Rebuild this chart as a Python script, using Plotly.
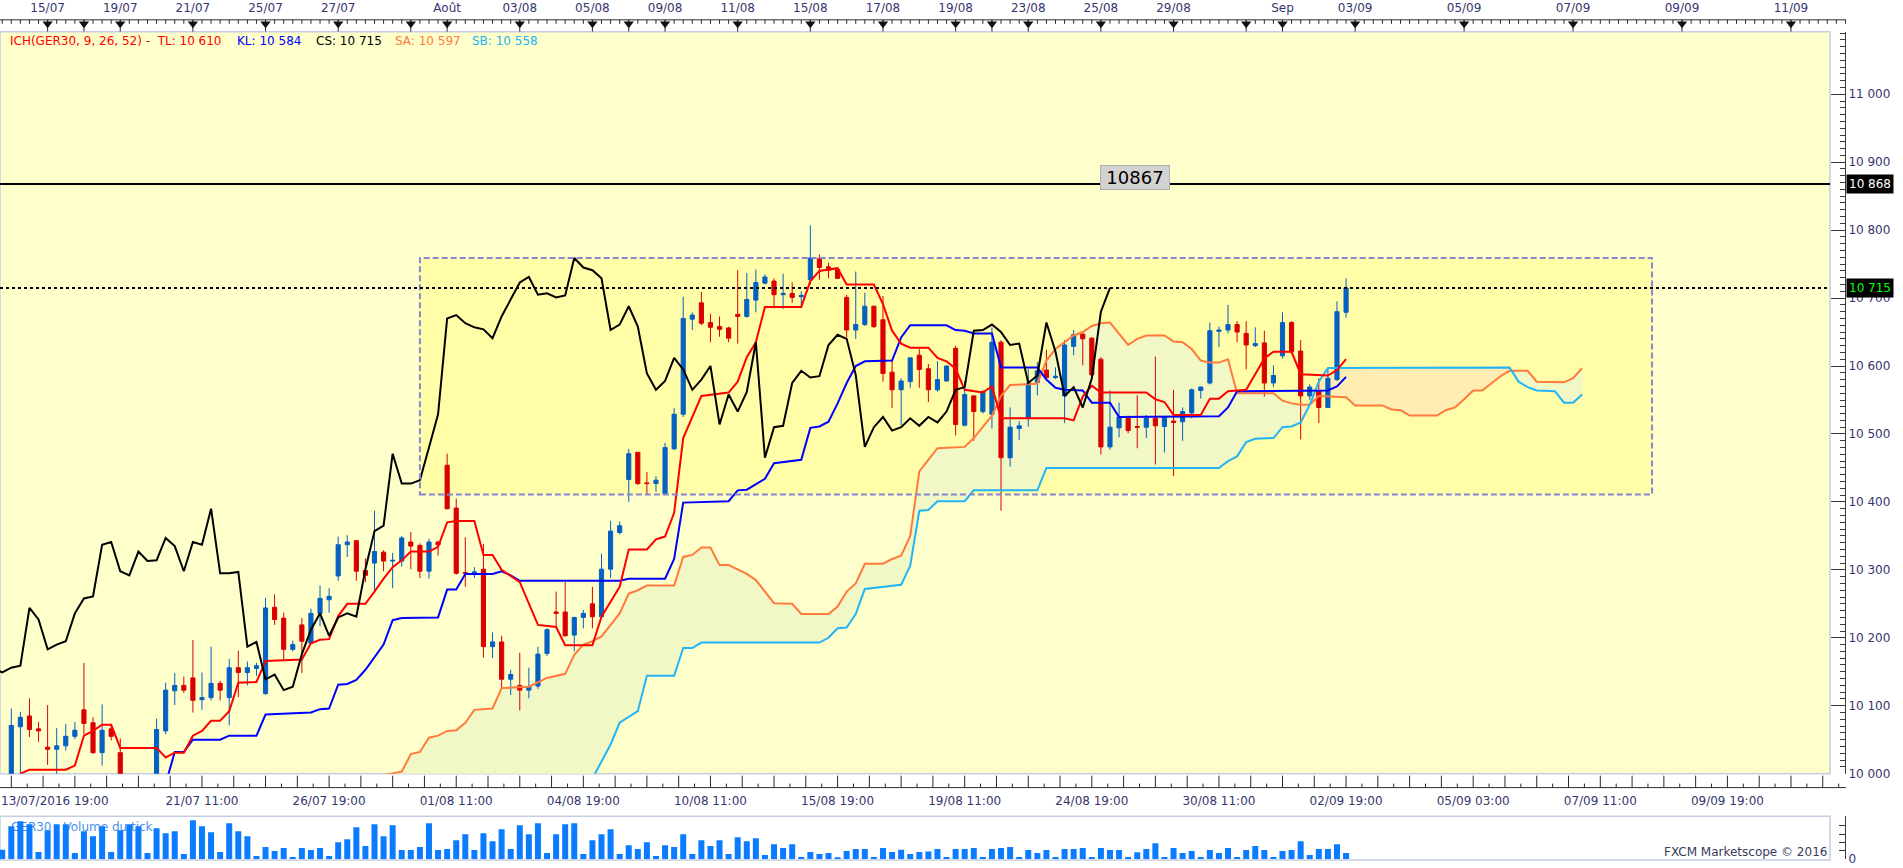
import plotly.graph_objects as go

# ---------------------------------------------------------------- geometry
W, H = 1903, 868
X0, DX = 11.3, 9.08          # px of bar 0 centre, px per bar
PLOT_R, PLOT_T, PLOT_B = 1830, 32, 780
VOL_T, VOL_B = 823, 866
AXIS_X = 1845
P0, PPX = 10000, 0.685       # price at plot bottom, px per point


def bx(px):
    return (px - X0) / DX


def fx(px):
    return px / W


def fy(py):
    return 1 - py / H


# ---------------------------------------------------------------- data (6h bars, GER30)
opens = [9970, 9985, 10069, 10085, 10066, 10039, 10036, 10041, 10055, 10094,
         10075, 10031, 10066, 10031, 9935, 9960, 9975, 9990, 10063, 10122,
         10130, 10141, 10109, 10112, 10133, 10112, 10156, 10149, 10155, 10118,
         10245, 10229, 10183, 10219, 10192, 10236, 10256, 10291, 10337, 10343,
         10299, 10310, 10326, 10313, 10313, 10341, 10336, 10298, 10341, 10454,
         10391, 10296, 10295, 10301, 10187, 10194, 10139, 10130, 10123, 10129,
         10177, 10238, 10238, 10204, 10230, 10250, 10231, 10301, 10355, 10433,
         10473, 10428, 10427, 10411, 10478, 10529, 10669, 10693, 10664, 10658,
         10656, 10676, 10673, 10697, 10722, 10725, 10705, 10707, 10702, 10727,
         10758, 10746, 10742, 10701, 10653, 10661, 10688, 10668, 10591, 10565,
         10577, 10616, 10596, 10565, 10578, 10626, 10513, 10556, 10533, 10529,
         10635, 10465, 10508, 10523, 10576, 10594, 10583, 10556, 10629, 10647,
         10641, 10610, 10481, 10509, 10523, 10511, 10510, 10523, 10511, 10519,
         10518, 10531, 10564, 10575, 10651, 10653, 10661, 10648, 10630, 10634,
         10575, 10615, 10664, 10622, 10556, 10564, 10539, 10580, 10679]
highs = [9995, 10096, 10091, 10111, 10076, 10101, 10067, 10073, 10076, 10163,
         10083, 10102, 10072, 10052, 9975, 9985, 9998, 10081, 10134, 10148,
         10143, 10197, 10149, 10187, 10137, 10169, 10181, 10165, 10163, 10259,
         10264, 10237, 10196, 10229, 10243, 10277, 10273, 10349, 10351, 10344,
         10317, 10387, 10329, 10325, 10350, 10356, 10339, 10346, 10342, 10471,
         10405, 10348, 10304, 10338, 10208, 10203, 10153, 10178, 10156, 10187,
         10214, 10268, 10282, 10231, 10241, 10275, 10324, 10372, 10371, 10478,
         10473, 10444, 10438, 10487, 10538, 10702, 10679, 10709, 10677, 10673,
         10658, 10741, 10737, 10742, 10735, 10729, 10736, 10723, 10710, 10807,
         10764, 10752, 10744, 10705, 10739, 10708, 10689, 10703, 10608, 10582,
         10612, 10625, 10603, 10607, 10601, 10630, 10578, 10557, 10565, 10657,
         10638, 10539, 10519, 10596, 10606, 10624, 10598, 10638, 10653, 10648,
         10642, 10613, 10564, 10546, 10527, 10557, 10528, 10614, 10525, 10565,
         10539, 10567, 10570, 10664, 10658, 10690, 10666, 10666, 10657, 10652,
         10601, 10679, 10666, 10638, 10573, 10582, 10596, 10695, 10729]
lows = [9955, 9970, 9995, 10054, 10047, 10013, 9998, 10034, 10051, 10058,
        10029, 10012, 10049, 9913, 9930, 9959, 9960, 9988, 10058, 10101,
        10119, 10090, 10094, 10108, 10108, 10071, 10113, 10130, 10144, 10116,
        10219, 10166, 10180, 10148, 10191, 10217, 10237, 10284, 10319, 10284,
        10282, 10268, 10298, 10273, 10305, 10301, 10288, 10287, 10321, 10389,
        10293, 10275, 10288, 10171, 10170, 10126, 10116, 10093, 10111, 10125,
        10173, 10216, 10202, 10180, 10214, 10214, 10229, 10288, 10352, 10400,
        10425, 10410, 10415, 10410, 10477, 10525, 10653, 10660, 10635, 10643,
        10635, 10633, 10671, 10679, 10720, 10685, 10684, 10693, 10690, 10720,
        10727, 10729, 10728, 10642, 10640, 10659, 10656, 10577, 10538, 10513,
        10568, 10568, 10547, 10562, 10577, 10498, 10511, 10490, 10530, 10508,
        10387, 10452, 10491, 10511, 10557, 10581, 10581, 10516, 10616, 10601,
        10585, 10470, 10477, 10495, 10501, 10479, 10494, 10455, 10473, 10438,
        10490, 10523, 10552, 10573, 10628, 10648, 10635, 10595, 10628, 10555,
        10569, 10611, 10620, 10492, 10550, 10516, 10538, 10578, 10671]
closes = [9985, 10071, 10083, 10065, 10063, 10036, 10041, 10055, 10064, 10074,
          10031, 10064, 10055, 9935, 9960, 9975, 9990, 10065, 10123, 10130,
          10123, 10108, 10112, 10133, 10123, 10156, 10149, 10156, 10159, 10244,
          10227, 10183, 10190, 10195, 10236, 10258, 10261, 10337, 10341, 10298,
          10292, 10327, 10313, 10314, 10347, 10335, 10298, 10341, 10337, 10390,
          10295, 10295, 10297, 10187, 10194, 10139, 10146, 10123, 10128, 10176,
          10212, 10236, 10203, 10230, 10236, 10231, 10301, 10357, 10365, 10471,
          10427, 10427, 10432, 10480, 10529, 10670, 10675, 10663, 10657, 10654,
          10641, 10673, 10698, 10723, 10731, 10705, 10707, 10701, 10704, 10759,
          10745, 10741, 10729, 10653, 10661, 10688, 10658, 10589, 10565, 10578,
          10612, 10595, 10565, 10580, 10600, 10514, 10558, 10533, 10562, 10635,
          10465, 10510, 10512, 10575, 10593, 10583, 10585, 10631, 10646, 10640,
          10587, 10481, 10510, 10525, 10505, 10510, 10523, 10512, 10525, 10517,
          10533, 10565, 10569, 10652, 10653, 10661, 10650, 10631, 10633, 10575,
          10586, 10664, 10621, 10556, 10569, 10539, 10582, 10680, 10715]
volumes = [930, 3300, 3800, 3500, 700, 2900, 3500, 3500, 600, 2800,
           2300, 3300, 700, 2900, 3500, 3300, 600, 3100, 2600, 2800,
           500, 3900, 3300, 2700, 700, 3600, 2800, 2300, 300, 1200,
           800, 1100, 200, 1100, 900, 1100, 300, 1700, 2000, 3200,
           1300, 3500, 2300, 3400, 900, 900, 1200, 3600, 900, 1000,
           1900, 2500, 900, 2600, 1800, 3000, 1000, 3400, 2500, 3600,
           600, 2500, 3500, 3600, 500, 1900, 2500, 3000, 500, 1400,
           1000, 1700, 300, 1400, 1200, 2500, 500, 1900, 1300, 1900,
           500, 2200, 1800, 2100, 400, 1500, 1100, 1500, 200, 700,
           500, 600, 100, 800, 1000, 1000, 200, 1100, 700, 930,
           500, 700, 770, 1000, 200, 1000, 1000, 1100, 200, 1000,
           1100, 1200, 200, 900, 600, 900, 200, 1000, 1000, 1100,
           200, 1100, 900, 900, 200, 670, 1000, 1600, 200, 1100,
           600, 800, 200, 900, 600, 1100, 200, 900, 1300, 900,
           200, 800, 900, 1800, 400, 1000, 1000, 1500, 600]
bars = list(range(-1, -1 + len(closes)))

# Ichimoku lines (vertices: bar index, value)
tl_x = [1, 2, 6, 7, 8, 9, 10, 11, 12, 16, 17, 18, 19, 20, 21, 22, 23, 24, 25, 27,
        28, 32, 33, 34, 35, 36, 37, 39, 40, 41, 42, 43, 44, 46, 47, 48, 49, 51, 52, 53,
        54, 56, 58, 60, 61, 64, 65, 67, 68, 70, 71, 72, 73, 74, 75, 76, 79, 80, 81, 82,
        83, 87, 88, 89, 91, 92, 95, 96, 97, 98, 99, 101, 102, 103, 104, 105, 107, 108, 109, 116,
        117, 118, 119, 120, 125, 126, 127, 128, 131, 132, 133, 134, 136, 137, 138, 139, 141, 142, 145, 146,
        147]
tl_y = [10000, 10006, 10006, 10012, 10056, 10063, 10072, 10072, 10038, 10038, 10024, 10031, 10031, 10056, 10063, 10078, 10078, 10092, 10134, 10135,
        10166, 10168, 10192, 10197, 10198, 10232, 10250, 10250, 10268, 10287, 10304, 10314, 10327, 10327, 10334, 10370, 10372, 10372, 10322, 10322,
        10300, 10282, 10219, 10216, 10189, 10189, 10231, 10275, 10330, 10330, 10345, 10349, 10384, 10494, 10525, 10556, 10561, 10577, 10613, 10635,
        10687, 10687, 10725, 10740, 10744, 10720, 10720, 10691, 10652, 10633, 10627, 10627, 10612, 10607, 10596, 10565, 10561, 10570, 10523, 10523,
        10520, 10555, 10571, 10561, 10561, 10551, 10547, 10528, 10528, 10552, 10552, 10563, 10565, 10589, 10611, 10621, 10621, 10588, 10586, 10594,
        10610]
kl_x = [17, 18, 19, 20, 23, 24, 27, 28, 33, 34, 35, 36, 37, 38, 39, 40, 41, 42, 43, 47,
        48, 49, 50, 53, 54, 55, 56, 67, 68, 72, 73, 74, 79, 80, 81, 83, 84, 87, 88, 89,
        90, 91, 92, 93, 94, 97, 98, 99, 103, 104, 105, 106, 108, 109, 113, 114, 115, 116, 118, 119,
        121, 122, 131, 133, 134, 135, 145, 146, 147]
kl_y = [9985, 10032, 10032, 10050, 10050, 10056, 10056, 10087, 10090, 10095, 10096, 10131, 10132, 10138, 10153, 10172, 10190, 10226, 10229, 10230,
        10271, 10271, 10294, 10294, 10298, 10292, 10284, 10284, 10287, 10287, 10316, 10399, 10401, 10417, 10418, 10434, 10457, 10462, 10509, 10511,
        10518, 10545, 10575, 10600, 10607, 10608, 10642, 10660, 10660, 10653, 10652, 10648, 10648, 10598, 10598, 10580, 10568, 10565, 10564, 10546,
        10546, 10525, 10525, 10526, 10539, 10563, 10564, 10570, 10584]
sa_x = [41, 43, 44, 45, 46, 47, 48, 49, 50, 51, 53, 54, 57, 58, 59, 61, 62, 63, 64, 65,
        67, 68, 69, 70, 73, 74, 75, 76, 77, 78, 79, 81, 82, 84, 86, 87, 90, 91, 92, 93,
        94, 96, 97, 98, 99, 100, 102, 105, 106, 108, 109, 110, 113, 114, 115, 117, 118, 119, 120, 121,
        122, 123, 124, 125, 127, 128, 129, 130, 131, 132, 133, 134, 135, 139, 140, 141, 142, 143, 144, 146,
        147, 148, 151, 152, 153, 154, 157, 158, 159, 160, 161, 162, 163, 164, 165, 167, 168, 171, 172, 173]
sa_y = [9998, 10003, 10029, 10032, 10053, 10056, 10063, 10064, 10075, 10094, 10096, 10126, 10128, 10134, 10141, 10147, 10175, 10190, 10195, 10202,
        10236, 10265, 10270, 10277, 10277, 10319, 10322, 10333, 10333, 10307, 10307, 10294, 10285, 10251, 10250, 10235, 10235, 10246, 10268, 10280,
        10309, 10309, 10316, 10321, 10350, 10445, 10479, 10481, 10494, 10527, 10556, 10572, 10574, 10608, 10625, 10645, 10650, 10659, 10663, 10664,
        10647, 10631, 10640, 10645, 10645, 10636, 10635, 10625, 10608, 10605, 10605, 10610, 10560, 10560, 10549, 10545, 10543, 10543, 10556, 10554,
        10554, 10542, 10542, 10536, 10535, 10527, 10527, 10535, 10539, 10551, 10564, 10564, 10575, 10585, 10593, 10593, 10577, 10576, 10582, 10597]
sb_x = [64, 66, 67, 69, 70, 73, 74, 75, 76, 89, 90, 91, 92, 93, 94, 98, 99, 100, 101, 102,
        105, 106, 113, 114, 133, 134, 135, 136, 137, 139, 140, 141, 142, 143, 144, 145, 165, 166, 167, 168,
        170, 171, 172, 173]
sb_y = [9993, 10043, 10075, 10092, 10144, 10144, 10185, 10185, 10193, 10193, 10200, 10214, 10215, 10235, 10272, 10278, 10306, 10387, 10388, 10401,
        10401, 10417, 10417, 10450, 10450, 10460, 10467, 10488, 10493, 10494, 10510, 10511, 10517, 10543, 10577, 10597, 10598, 10577, 10569, 10564,
        10563, 10546, 10546, 10558]
kumo_cross_x = [143, 165.2]       # where Senkou A and B cross
kumo_cross_y = [10543, 10593]
CHIKOU_SHIFT = 26

# drawings
resistance_level = 10868
resistance_text = "10867"
resistance_label_pos = (123.7, 10877)
zone_x = [45.0, 180.7]
zone_y = [10411, 10759]

# time axes
top_label_bars = [4, 12, 20, 28, 36, 48, 56, 64, 72, 80, 88, 96, 104, 112, 120, 128, 140, 148, 160, 172, 184, 196]
top_labels = ["15/07", "19/07", "21/07", "25/07", "27/07", "Août", "03/08", "05/08", "09/08", "11/08", "15/08",
              "17/08", "19/08", "23/08", "25/08", "29/08", "Sep", "03/09", "05/09", "07/09", "09/09", "11/09"]
top_extra_marks = [8, 44, 68, 108, 136]
bottom_label_bars = [21, 35, 49, 63, 77, 91, 105, 119, 133, 147, 161, 175, 189]
bottom_labels = ["21/07 11:00", "26/07 19:00", "01/08 11:00", "04/08 19:00", "10/08 11:00", "15/08 19:00",
                 "19/08 11:00", "24/08 19:00", "30/08 11:00", "02/09 19:00", "05/09 03:00", "07/09 11:00", "09/09 19:00"]
first_bottom_label = "13/07/2016 19:00"

# ---------------------------------------------------------------- style
BULL, BEAR = "#0560C2", "#D90000"
C_TL, C_KL, C_CS, C_SA, C_SB = "#FF0000", "#0000FF", "#000000", "#FF7A3C", "#22B4F6"
KUMO_UP, KUMO_DN = "#F1F8C6", "#FFEDB3"
VOLC = "#0B7CFF"
TXT = "#36366E"
FONT = "DejaVu Sans"

fig = go.Figure()

# ---- kumo fills (as below-layer path shapes so candles stay on top)
def pts(xs, ys, cond):
    return [(x, y) for x, y in zip(xs, ys) if cond(x)]


c1 = (kumo_cross_x[0], kumo_cross_y[0])
c2 = (kumo_cross_x[1], kumo_cross_y[1])
polys = [
    (pts(sa_x, sa_y, lambda x: x <= c1[0]) + pts(sb_x, sb_y, lambda x: x <= c1[0])[::-1], KUMO_UP),
    ([c1] + pts(sa_x, sa_y, lambda x: c1[0] < x < c2[0]) + [c2]
     + pts(sb_x, sb_y, lambda x: c1[0] < x < c2[0])[::-1], KUMO_DN),
    ([c2] + pts(sa_x, sa_y, lambda x: x > c2[0]) + pts(sb_x, sb_y, lambda x: x > c2[0])[::-1], KUMO_UP),
]
kumo_shapes = []
for poly, col in polys:
    path = "M " + " L ".join(f"{x},{y}" for x, y in poly) + " Z"
    kumo_shapes.append(dict(type="path", xref="x", yref="y", path=path, fillcolor=col,
                            line=dict(width=0), layer="below"))

# ---- candles
fig.add_trace(go.Candlestick(x=bars, open=opens, high=highs, low=lows, close=closes,
                             increasing=dict(line=dict(color=BULL, width=1), fillcolor=BULL),
                             decreasing=dict(line=dict(color=BEAR, width=1), fillcolor=BEAR),
                             whiskerwidth=0, showlegend=False, xaxis="x", yaxis="y"))

# ---- ichimoku lines
for xs, ys, col in [(sa_x, sa_y, C_SA), (sb_x, sb_y, C_SB), (kl_x, kl_y, C_KL), (tl_x, tl_y, C_TL),
                    ([b - CHIKOU_SHIFT for b in bars], closes, C_CS)]:
    fig.add_trace(go.Scatter(x=xs, y=ys, mode="lines", line=dict(color=col, width=2),
                             hoverinfo="skip", showlegend=False, xaxis="x", yaxis="y"))

# ---- volume
fig.add_trace(go.Bar(x=bars, y=volumes, marker=dict(color=VOLC, line=dict(width=0)), width=0.66,
                     showlegend=False, xaxis="x2", yaxis="y2"))

# ---- top ruler
tk_x, tk_y = [], []
for b in range(-1, 203):
    tk_x += [b, b, None]
    tk_y += [20, 24, None]
for b in top_label_bars + top_extra_marks:
    tk_x += [b, b, None]
    tk_y += [20, 32, None]
fig.add_trace(go.Scatter(x=tk_x, y=tk_y, mode="lines", line=dict(color="#2a2a2a", width=1),
                         hoverinfo="skip", showlegend=False, xaxis="x3", yaxis="y3"))
fig.add_trace(go.Scatter(x=top_label_bars + top_extra_marks, y=[24] * (len(top_label_bars) + len(top_extra_marks)),
                         mode="markers", marker=dict(symbol="triangle-down", size=9, color="#111111"),
                         hoverinfo="skip", showlegend=False, xaxis="x3", yaxis="y3"))
fig.add_trace(go.Scatter(x=top_label_bars, y=[9] * len(top_label_bars), mode="text", text=top_labels,
                         textfont=dict(family=FONT, size=12, color=TXT), cliponaxis=False,
                         hoverinfo="skip", showlegend=False, xaxis="x3", yaxis="y3"))

# ---- bottom ruler
bt_x, bt_y = [], []
for k in range(0, 117):
    b = k * 1.75
    if k % 2 == 0:
        bt_x += [b, b, None]
        bt_y += [794, 782, None]
    else:
        bt_x += [b, b, None]
        bt_y += [794, 790, None]
fig.add_trace(go.Scatter(x=bt_x, y=bt_y, mode="lines", line=dict(color="#2a2a2a", width=1),
                         hoverinfo="skip", showlegend=False, xaxis="x4", yaxis="y4"))
fig.add_trace(go.Scatter(x=bottom_label_bars, y=[809] * len(bottom_label_bars), mode="text", text=bottom_labels,
                         textfont=dict(family=FONT, size=12, color=TXT), cliponaxis=False,
                         hoverinfo="skip", showlegend=False, xaxis="x4", yaxis="y4"))
fig.add_trace(go.Scatter(x=[bx(1)], y=[809], mode="text", text=[first_bottom_label], textposition="middle right",
                         textfont=dict(family=FONT, size=12, color=TXT), cliponaxis=False,
                         hoverinfo="skip", showlegend=False, xaxis="x4", yaxis="y4"))

# ---------------------------------------------------------------- shapes
FRAME = "#C4CEE2"
shapes = [
    dict(type="rect", xref="paper", yref="paper", x0=0, x1=fx(PLOT_R), y0=fy(PLOT_B), y1=fy(PLOT_T),
         fillcolor="#FFFFCC", line=dict(color=FRAME, width=1.5), layer="below"),
    dict(type="rect", xref="paper", yref="paper", x0=0, x1=fx(PLOT_R), y0=fy(867), y1=fy(VOL_T),
         fillcolor="white", line=dict(color=FRAME, width=1.5), layer="below"),
    dict(type="rect", xref="paper", yref="paper", x0=fx(6), x1=fx(320), y0=fy(VOL_B), y1=fy(VOL_T + 1),
         fillcolor="rgba(0,0,0,0)", line=dict(width=0), layer="below",
         label=dict(text="GER30 - Volume du tick", textposition="top left", padding=2,
                    font=dict(family=FONT, size=12, color="#4B93E4"))),
    dict(type="rect", xref="x", yref="y", x0=zone_x[0], x1=zone_x[1], y0=zone_y[0], y1=zone_y[1],
         fillcolor="#FFFDA8", line=dict(width=0), layer="below"),
] + kumo_shapes + [
    dict(type="rect", xref="x", yref="y", x0=zone_x[0], x1=zone_x[1], y0=zone_y[0], y1=zone_y[1],
         fillcolor="rgba(0,0,0,0)", line=dict(color="#8686D2", width=2, dash="6px,3px"), layer="above"),
    dict(type="line", xref="x domain", yref="y", x0=0, x1=1, y0=resistance_level, y1=resistance_level,
         line=dict(color="black", width=2), layer="above"),
    dict(type="line", xref="x domain", yref="y", x0=0, x1=1, y0=closes[-1], y1=closes[-1],
         line=dict(color="black", width=2, dash="dot"), layer="above"),
    dict(type="line", xref="paper", yref="paper", x0=0, x1=fx(1846), y0=fy(20), y1=fy(20),
         line=dict(color="#2a2a2a", width=1)),
    dict(type="line", xref="paper", yref="paper", x0=0, x1=fx(1846), y0=fy(794), y1=fy(794),
         line=dict(color="#2a2a2a", width=1)),
]


def fmt(v):
    return f"{v:,.0f}".replace(",", " ")


annotations = []
legend_parts = [
    (8, f"ICH(GER30, 9, 26, 52) -  TL: {fmt(tl_y[-1])}", C_TL),
    (235, f"KL: {fmt(kl_y[-1])}", C_KL),
    (314, f"CS: {fmt(closes[-1])}", C_CS),
    (393, f"SA: {fmt(sa_y[-1])}", C_SA),
    (470, f"SB: {fmt(sb_y[-1])}", C_SB),
]
for px, txt, col in legend_parts:
    annotations.append(dict(x=fx(px), y=fy(41), xref="paper", yref="paper", xanchor="left", yanchor="middle",
                            text=txt, showarrow=False, font=dict(family=FONT, size=12, color=col)))
annotations.append(dict(x=resistance_label_pos[0], y=resistance_label_pos[1], xref="x", yref="y",
                        text=resistance_text, showarrow=False, bgcolor="#D2D2D2", bordercolor="#B0B0B0",
                        borderwidth=1, borderpad=1, width=66, font=dict(family=FONT, size=18, color="black")))
annotations.append(dict(x=fx(1846), y=resistance_level, xref="paper", yref="y", xanchor="left", yanchor="middle",
                        text=fmt(resistance_level), showarrow=False, bgcolor="black", borderpad=2,
                        font=dict(family=FONT, size=12, color="white")))
annotations.append(dict(x=fx(1846), y=closes[-1], xref="paper", yref="y", xanchor="left", yanchor="middle",
                        text=fmt(closes[-1]), showarrow=False, bgcolor="black", borderpad=2,
                        font=dict(family=FONT, size=12, color="#00FF00")))
annotations.append(dict(x=fx(1829), y=fy(859), xref="paper", yref="paper", xanchor="right", yanchor="middle",
                        text="FXCM Marketscope © 2016", showarrow=False,
                        font=dict(family=FONT, size=12, color="#3A3A5C")))

x_main = [bx(0), bx(PLOT_R)]
x_strip = [bx(0), bx(1850)]
y_main = [P0, P0 + (PLOT_B - PLOT_T) / PPX]
axcol = "#3a3a3a"

fig.update_layout(
    width=W, height=H, margin=dict(l=0, r=0, t=0, b=0),
    paper_bgcolor="white", plot_bgcolor="rgba(0,0,0,0)",
    font=dict(family=FONT, size=12, color=TXT),
    showlegend=False, boxgap=0.35, separators=", ", hovermode=False,
    shapes=shapes, annotations=annotations,
    xaxis=dict(domain=[0, fx(PLOT_R)], range=x_main, visible=False, anchor="y",
               rangeslider=dict(visible=False)),
    yaxis=dict(domain=[fy(PLOT_B), fy(PLOT_T)], range=y_main, side="right", anchor="free",
               position=fx(AXIS_X), tickmode="linear", tick0=10000, dtick=100, tickformat=",d",
               ticks="inside", ticklen=14, tickcolor=axcol, showline=True, linecolor=axcol,
               showgrid=False, zeroline=False, tickfont=dict(family=FONT, size=12, color=TXT),
               minor=dict(ticks="inside", ticklen=5, dtick=10, tick0=10000, tickcolor=axcol, showgrid=False)),
    xaxis2=dict(domain=[0, fx(PLOT_R)], range=x_main, visible=False, anchor="y2"),
    yaxis2=dict(domain=[fy(VOL_B), fy(VOL_T)], range=[0, 4300], side="right", anchor="free",
                position=fx(AXIS_X), tickmode="array", tickvals=[0, 840, 1680, 2520, 3360, 4200],
                ticktext=["0", "", "", "", "", ""], ticks="inside", ticklen=6, tickcolor=axcol,
                showline=True, linecolor=axcol, showgrid=False, zeroline=False,
                tickfont=dict(family=FONT, size=12, color=TXT)),
    xaxis3=dict(domain=[0, fx(1850)], range=x_strip, visible=False, anchor="y3"),
    yaxis3=dict(domain=[fy(PLOT_T), 1], range=[PLOT_T, 0], visible=False, anchor="x3"),
    xaxis4=dict(domain=[0, fx(1850)], range=x_strip, visible=False, anchor="y4"),
    yaxis4=dict(domain=[fy(VOL_T), fy(PLOT_B)], range=[VOL_T, PLOT_B], visible=False, anchor="x4"),
)

fig.write_html("out.html", config={"displayModeBar": False},
               post_script="document.body.style.margin='0';document.body.style.overflow='hidden';")
